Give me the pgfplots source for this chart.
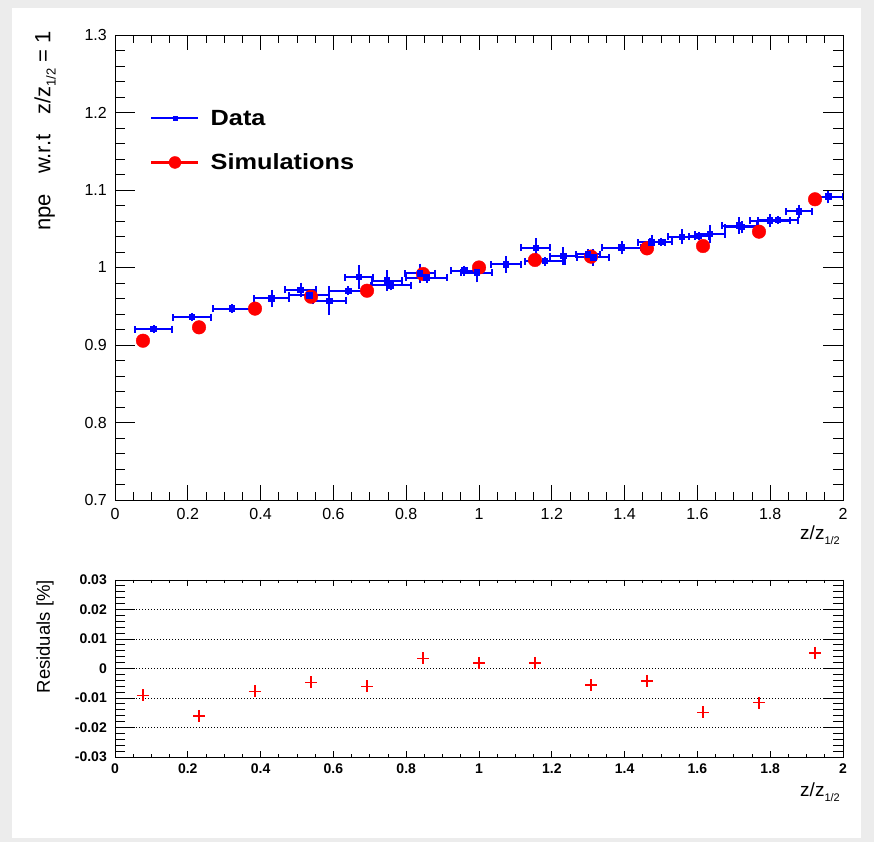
\documentclass[border=0pt]{standalone}
\usepackage{fontspec}
\setmainfont{Liberation Sans}
\newfontfamily\legfont[FakeStretch=1.15]{Liberation Sans}
\usepackage{pgfplots}
\usepackage{pgfplotstable}
\pgfplotsset{compat=1.18}

\definecolor{rootblue}{RGB}{0,0,255}
\definecolor{rootred}{RGB}{255,0,0}
\definecolor{canvasgray}{RGB}{236,236,236}

% measured npe ratio: bin centre, value, half bin width, error
\pgfplotstableread{
x      y       ex     ey
0.106  0.9206  0.051  0.001
0.212  0.9360  0.053  0.001
0.321  0.9470  0.053  0.001
0.430  0.9600  0.049  0.0065
0.510  0.9710  0.042  0.005
0.534  0.9640  0.055  0.002
0.589  0.9570  0.045  0.014
0.641  0.9700  0.052  0.001
0.670  0.9877  0.038  0.011
0.748  0.9830  0.041  0.009
0.757  0.9770  0.055  0.002
0.838  0.9925  0.040  0.008
0.856  0.9870  0.057  0.002
0.960  0.9960  0.037  0.002
0.994  0.9933  0.043  0.008
1.074  1.0040  0.041  0.006
1.156  1.0255  0.040  0.008
1.181  1.0080  0.055  0.001
1.232  1.0148  0.038  0.0065
1.300  1.0170  0.033  0.002
1.314  1.0130  0.044  0.006
1.392  1.0256  0.053  0.004
1.474  1.0325  0.036  0.005
1.500  1.0330  0.030  0.001
1.557  1.0397  0.037  0.005
1.604  1.0406  0.028  0.001
1.635  1.0430  0.041  0.0075
1.715  1.0540  0.048  0.006
1.722  1.0520  0.045  0.003
1.799  1.0604  0.055  0.004
1.822  1.0610  0.055  0.001
1.879  1.0725  0.037  0.004
1.960  1.0914  0.041  0.004
}\datatab

% simulated npe ratio
\pgfplotstableread{
x       y
0.0769  0.9055
0.2308  0.9228
0.3846  0.9469
0.5385  0.9623
0.6923  0.9700
0.8462  0.9916
1.0000  1.0000
1.1538  1.0097
1.3077  1.0140
1.4615  1.0247
1.6154  1.0277
1.7692  1.0462
1.9231  1.0880
}\simtab

% residuals data - simulation
\pgfplotstableread{
x       r
0.0769  -0.0091
0.2308  -0.0161
0.3846  -0.0077
0.5385  -0.0047
0.6923  -0.0061
0.8462   0.0034
1.0000   0.0019
1.1538   0.0019
1.3077  -0.0056
1.4615  -0.0042
1.6154  -0.0148
1.7692  -0.0116
1.9231   0.0053
}\restab

\newcommand{\half}[1]{\raisebox{-0.45ex}{\fontsize{#1}{#1}\selectfont 1/2}}

\pgfplotsset{
  rootpad/.style={
    scale only axis, width=728pt,
    xmin=0, xmax=2,
    axis line style={black, line width=0.9pt},
    tick align=inside, tick pos=both,
    tick style={black, line width=0.9pt},
    scaled ticks=false,
  },
  rootxticks/.style={
    xtick={0,0.2,0.4,0.6,0.8,1,1.2,1.4,1.6,1.8,2},
    xticklabels={0,0.2,0.4,0.6,0.8,1,1.2,1.4,1.6,1.8,2},
    minor x tick num=3,
  },
  databar/.style={
    forget plot, color=rootblue, line width=2pt, only marks,
    mark=square*, mark size=2.2pt,
    error bars/error bar style={draw=rootblue, line width=2pt},
    error bars/error mark options={draw=rootblue, mark size=3.5pt, line width=2pt},
  },
}

\begin{document}
\begin{tikzpicture}[x=1pt,y=1pt]
\fill[canvasgray] (0,0) rectangle (874,842);
\fill[white] (12,4) rectangle (861,834);

% upper pad: data, simulation, x ticks and all labels
\begin{axis}[rootpad, rootxticks,
  at={(115pt,342pt)}, anchor=south west, height=465pt,
  ymin=0.7, ymax=1.3,
  ytick={0.7,0.8,0.9,1,1.1,1.2,1.3},
  yticklabels={0.7,0.8,0.9,1,1.1,1.2,1.3},
  major tick length=15pt, minor tick length=8pt,
  ytick style={draw=none},
  tick label style={font=\fontsize{16}{16}\selectfont, inner sep=0pt},
  xticklabel style={yshift=-8pt},
  yticklabel style={xshift=-8pt},
  xlabel={z/z\half{11}},
  xlabel style={at={(rel axis cs:1,0)}, anchor=north east, yshift=-26pt, xshift=-3pt,
    inner sep=0pt, font=\fontsize{19}{19}\selectfont},
  ylabel={npe\hspace{20pt}w.r.t\hspace{20pt}z/z\half{13} = 1},
  ylabel style={at={([xshift=-70pt,yshift=4pt]rel axis cs:0,1)}, anchor=east,
    inner sep=0pt, font=\fontsize{22}{22}\selectfont},
  legend style={draw=none, fill=none, at={(axis cs:0.0962,1.2045)}, anchor=north west,
    inner sep=0pt, row sep=27pt, column sep=11pt,
    nodes={inner sep=0pt},
    font=\legfont\bfseries\fontsize{22}{22}\selectfont},
  legend cell align=left,
]
\addlegendimage{legend image code/.code={
  \draw[rootblue, line width=1.2pt] (0pt,0pt) -- (47pt,0pt);
  \fill[rootblue] (21.5pt,-2pt) rectangle (25.5pt,2pt);}}
\addlegendentry{\rule{0pt}{16pt}Data}
\addlegendimage{legend image code/.code={
  \draw[rootred, line width=2.5pt] (0pt,0pt) -- (47pt,0pt);
  \fill[rootred] (23.5pt,0pt) circle[radius=6pt];}}
\addlegendentry{\rule{0pt}{16pt}Simulations}

\addplot[forget plot, only marks, mark=*, color=rootred, mark size=6.8pt]
  table[x=x, y=y] {\simtab};
% horizontal bars: bin widths
\addplot[databar, error bars/x dir=both, error bars/x explicit,
  error bars/error mark=|]
  table[x=x, y=y, x error=ex] {\datatab};
% vertical bars: errors on the ratio
\addplot[databar, error bars/y dir=both, error bars/y explicit,
  error bars/error mark=-]
  table[x=x, y=y, y error=ey] {\datatab};
\end{axis}

% upper pad: y ticks
\begin{axis}[rootpad,
  at={(115pt,342pt)}, anchor=south west, height=465pt,
  ymin=0.7, ymax=1.3, xtick=\empty,
  ytick={0.7,0.8,0.9,1,1.1,1.2,1.3}, yticklabels={},
  minor y tick num=4,
  major tick length=20pt, minor tick length=10pt]
\end{axis}

% lower pad: residuals
\begin{axis}[rootpad, rootxticks,
  at={(115pt,85pt)}, anchor=south west, height=177pt,
  ymin=-0.03, ymax=0.03,
  ytick={-0.03,-0.02,-0.01,0,0.01,0.02,0.03},
  yticklabels={-0.03,-0.02,-0.01,0,0.01,0.02,0.03},
  major tick length=6pt, minor tick length=3pt,
  ytick style={draw=none},
  ymajorgrids,
  major grid style={black, line width=0.8pt, dash pattern=on 0.8pt off 2.2pt},
  tick label style={font=\bfseries\fontsize{14}{14}\selectfont, inner sep=0pt},
  xticklabel style={yshift=-7pt},
  yticklabel style={xshift=-8pt},
  xlabel={z/z\half{11}},
  xlabel style={at={(rel axis cs:1,0)}, anchor=north east, yshift=-26pt, xshift=-3pt,
    inner sep=0pt, font=\fontsize{19}{19}\selectfont},
  ylabel={Residuals [\%]},
  ylabel style={at={([xshift=-70pt,yshift=0pt]rel axis cs:0,1)}, anchor=east,
    inner sep=0pt, font=\fontsize{18.5}{18.5}\selectfont},
]
\addplot[only marks, mark=+, color=rootred, mark size=6pt, line width=1.3pt]
  table[x=x, y=r] {\restab};
\end{axis}

% lower pad: y ticks
\begin{axis}[rootpad,
  at={(115pt,85pt)}, anchor=south west, height=177pt,
  ymin=-0.03, ymax=0.03, xtick=\empty,
  ytick={-0.03,-0.02,-0.01,0,0.01,0.02,0.03}, yticklabels={},
  minor y tick num=4,
  major tick length=20pt, minor tick length=10pt]
\end{axis}
\end{tikzpicture}
\end{document}
